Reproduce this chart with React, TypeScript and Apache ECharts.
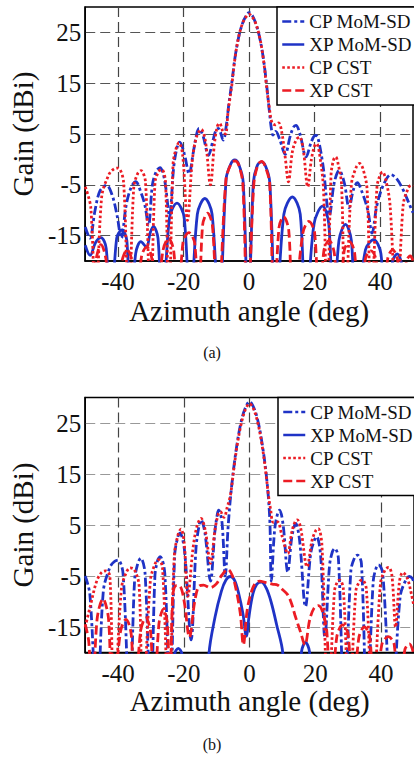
import React, { useEffect, useRef } from 'react';
import * as echarts from 'echarts';

const FONT = "'Liberation Serif', 'Times New Roman', Times, serif";
const xTicks = [-40, -20, 0, 20, 40];
const xGridB = [-40, -20, 0, 40];
const yTicks = [-15, -5, 5, 15, 25];
const seriesNames = ['CP MoM-SD', 'XP MoM-SD', 'CP CST', 'XP CST'];
const xTitle = 'Azimuth angle (deg)';
const yTitle = 'Gain (dBi)';
const panelLabels = ['(a)', '(b)'];

// ---- panel (a) ----
const cpMomA = [
  [-50, -13.3], [-48.6, -15.5], [-47, -10], [-45.5, -6.2], [-43.5, -5.1], [-41.8, -7], [-40.3, -11], [-39, -15.5],
  [-37.5, -9], [-36, -5.5], [-34.6, -4.4], [-33, -6.5], [-31.8, -9], [-30.7, -13], [-29.5, -5], [-28.3, -2.3],
  [-27.2, -1.6], [-25.8, -4], [-24.3, -11], [-23, -1.5], [-22, 2.3], [-21.2, 3.4], [-19.8, 1.2], [-18.3, -2.8],
  [-17, 1.5], [-16, 5], [-15.3, 6.1], [-14, 4.5], [-12.4, 0.8], [-11, 3.8], [-10.2, 5.6], [-9.4, 6.1], [-7.9, 3.8],
  [-7, 6.5], [-6.2, 10.8], [-5.2, 15.5], [-4.2, 20.5], [-3, 24.6], [-2, 26.8], [-1, 28.2], [0, 28.9], [1, 28.3],
  [2, 26.8], [3, 24.6], [4.2, 20.5], [5.2, 15.5], [6.1, 10], [6.8, 6], [7.3, 4.8], [8.1, 5.5], [9.3, 4], [11, 1],
  [12.5, 4.5], [13.5, 6.3], [14.3, 6.7], [15.5, 5], [17.4, 0.5], [19, 3.5], [20.2, 4.7], [20.9, 4.5], [22.5, -1],
  [24.5, -11], [26, -4.5], [27.5, -2.2], [29, -4.5], [30.5, -9.5], [31.8, -6], [33, -4.6], [34.5, -6.5], [36.2, -10],
  [37.5, -14.5], [39, -9], [41, -5], [43.3, -3], [45, -3.8], [47, -6], [49, -9], [50, -10.5],
];
const xpMomA = [
  [-50, -16.9], [-48.5, -18.9], [-46.8, -16.3], [-45.2, -15.4], [-43.6, -17.5], [-42.3, -32], [-40.4, -15.5],
  [-38.8, -13.9], [-37.3, -16], [-36.3, -32], [-34.6, -18.5], [-33, -16.2], [-31.3, -17.3], [-30.2, -14.5],
  [-29.2, -13.2], [-27.8, -15.5], [-26.5, -32], [-24.3, -11.5], [-22, -8.6], [-19.8, -11.5], [-18, -32],
  [-15.8, -10.8], [-13.5, -7.7], [-11.3, -10.8], [-9.2, -32], [-7, -3.8], [-5.6, -0.9], [-4.4, -0.1], [-3.2, -0.9],
  [-1.8, -4.5], [-0.3, -32], [1.3, -4.5], [2.5, -1.2], [3.7, -0.5], [5, -1.3], [6.3, -4.5], [8.2, -32],
  [10.6, -10.8], [13.2, -7.4], [15.6, -10.8], [17.2, -32], [19.8, -12.7], [22.4, -9.2], [24.3, -12.7], [25.7, -32],
  [27.4, -16], [29.4, -12.8], [31.2, -16], [32.5, -32], [35.5, -17.8], [38, -15.8], [40.2, -18.5], [41.5, -32],
  [43.8, -20], [45.2, -18.6], [46.6, -21], [47.5, -32], [50, -32],
];
const cpCstA = [
  [-50, -5.4], [-48.3, -9.5], [-46.8, -32], [-45, -7.5], [-42.8, -3], [-41.3, -1.9], [-40, -1.7], [-38.3, -4.5],
  [-36.8, -32], [-35.2, -5.5], [-34, -2.8], [-33, -2.2], [-31.6, -4.5], [-30.1, -32], [-28.7, -4.5], [-27.5, -2.3],
  [-26.6, -2], [-25.5, -4.5], [-24.5, -32], [-23.2, -1], [-22.2, 2.3], [-21.4, 3.3], [-20.3, 1], [-18.8, -12],
  [-17.3, 0], [-16, 4.5], [-14.6, 5.9], [-13.3, 3.5], [-11.8, -5], [-10.6, 3], [-9.7, 6.5], [-9, 7.1], [-8, 5.5],
  [-7.2, 5], [-6.4, 9.5], [-5.3, 14.5], [-4.3, 20], [-3.1, 24.4], [-2, 26.8], [-1, 28], [0, 28.6], [1, 28],
  [2, 26.8], [3.1, 24.4], [4.3, 20], [5.3, 14.5], [6.2, 10], [7, 7.2], [8, 6.8], [9, 7.2], [10, 5.2], [11, 0.5],
  [12, -4.4], [13.2, 1.5], [14.4, 3.9], [15.4, 4.4], [16.5, 2], [17.9, -5.4], [19, 0], [20, 2.7], [20.6, 3.1],
  [21.5, 1], [22.7, -6], [23.8, -32], [25, -3], [25.8, 0], [26.4, 0.5], [27.2, -1], [28.2, -5], [29.3, -32],
  [31.2, -5], [32.7, -1.5], [33.7, -0.8], [34.8, -2], [36, -6], [37.2, -32], [39, -5.5], [40, -3], [40.7, -2.5],
  [41.7, -4], [43, -9], [45, -32], [47, -9], [48.6, -5.6], [49.5, -5.1], [50, -5.3],
];
const xpCstA = [
  [-50, -32], [-46.8, -20], [-45.2, -16.8], [-43.6, -20], [-42.5, -32], [-38.8, -20], [-37.2, -17.8], [-35.8, -20],
  [-34.8, -32], [-32.8, -19], [-31.2, -17.2], [-29.7, -19.5], [-28.7, -32], [-26.3, -18], [-24.6, -15.6], [-23, -18],
  [-21.7, -32], [-20.2, -16.5], [-18.4, -14.4], [-16.6, -16.5], [-15.4, -32], [-14.2, -13], [-12.7, -10.6],
  [-11.2, -13], [-9.6, -32], [-7.1, -4.2], [-5.6, -1], [-4.3, -0.3], [-3.1, -1.2], [-1.9, -5], [-0.5, -32],
  [1.4, -5.2], [2.6, -1.2], [3.8, -0.4], [5, -1.5], [6.3, -5], [7.6, -32], [9.1, -13.5], [10.5, -11.3], [12.1, -14],
  [13.3, -32], [16.4, -14.5], [18.2, -12.2], [20, -14.5], [21.3, -32], [22.8, -18], [24.4, -16], [26, -18.5],
  [27.3, -32], [29, -18], [30.6, -16.2], [32.2, -18.5], [33.5, -32], [35.5, -19.5], [37.2, -18], [38.8, -20],
  [40, -32], [42.3, -19.5], [43.8, -17.8], [45.3, -19.8], [46.3, -32], [48, -20], [49.2, -19], [50, -20],
];

// ---- panel (b) ----
const cpMomB = [
  [-50, -5], [-48.6, -8.5], [-46.4, -32], [-44.5, -8], [-42.5, -3.3], [-41.2, -2.2], [-40, -1.9], [-38.5, -4.5],
  [-36.5, -32], [-35, -6], [-34, -2.5], [-33.1, -1.5], [-31.8, -4.5], [-30.1, -32], [-28.8, -5], [-28, -2],
  [-27.2, -1.2], [-25.8, -4.5], [-24.2, -32], [-22.8, -1], [-21.9, 2.5], [-21.2, 3.4], [-19.8, 0], [-17.8, -17.5],
  [-16.3, 0.5], [-15.4, 4.8], [-14.8, 6], [-13.6, 3.5], [-11.9, -6], [-10.6, 3.5], [-9.8, 7.2], [-9.4, 7.9],
  [-8.4, 5.5], [-7.4, -5], [-6.6, 4], [-5.9, 9.8], [-4.9, 15.8], [-3.8, 21], [-2.6, 25.2], [-1.4, 27.8], [0, 29.2],
  [1.4, 27.8], [2.6, 25.2], [3.8, 21], [4.9, 15.8], [5.7, 10.5], [6.2, 5], [6.6, -6], [7.6, 4], [8.5, 7.2],
  [9.1, 7.9], [10.2, 5], [11.6, -4.2], [12.8, 2.5], [13.6, 4.8], [14, 5.3], [15.2, 2], [17, -11], [18.6, -0.5],
  [19.8, 2.2], [20.4, 2.7], [21.6, -1], [22.9, -17], [24.3, -3], [25.2, -0.2], [25.9, 0.4], [27, -1.5], [28.8, -32],
  [30.8, -4], [32, -1.3], [32.8, -0.9], [34, -2.5], [35.7, -32], [37.6, -6], [38.6, -3.2], [39.2, -2.8], [40.5, -4.5],
  [43.2, -32], [45.8, -9], [47.5, -5.8], [48.6, -5.1], [49.5, -5.5], [50, -6.5],
];
const xpMomB = [
  [-50, -32], [-24.3, -32], [-22.8, -20.3], [-21.7, -19.2], [-20.6, -20.3], [-19.2, -32], [-12.8, -32],
  [-12.4, -20.5], [-10.5, -13], [-8.6, -8], [-7.2, -5.8], [-5.9, -5.1], [-4.6, -5.8], [-3.3, -8.5], [-2, -12.5],
  [-1, -16.8], [-0.1, -12.5], [1, -8.5], [2.2, -6.6], [3.6, -6.2], [5, -7.3], [6.5, -10], [8.2, -14.5],
  [10.1, -20.2], [10.6, -32], [14.8, -32], [15.8, -19.8], [17, -18], [18.2, -19.8], [19.2, -32], [50, -32],
];
const cpCstB = [
  [-50, -15], [-48.5, -11], [-46.5, -6], [-45, -4.3], [-43.8, -4], [-42.5, -5], [-41.3, -32], [-39, -7.5],
  [-37.5, -4.3], [-36.3, -3.4], [-35, -3.8], [-33.6, -7], [-32.5, -32], [-30.2, -6], [-28.8, -2.7], [-27.7, -1.8],
  [-26.5, -3.3], [-24.6, -32], [-22.9, -1], [-21.8, 3], [-20.9, 4.2], [-19.9, 1.5], [-18.8, -9], [-17.2, 0.5],
  [-16, 4.8], [-14.8, 6.3], [-13.5, 4], [-11.9, -2.5], [-10.5, 4.2], [-9.5, 7.2], [-8.9, 7.6], [-7.8, 6.5],
  [-6.8, 8.5], [-5.8, 11], [-4.8, 16], [-3.7, 21], [-2.5, 25], [-1.3, 27.6], [0, 28.8], [1.3, 27.6], [2.5, 25],
  [3.7, 21], [4.8, 16], [5.7, 11], [6.4, 8], [7.2, 5.5], [8.5, 5.6], [9.8, 3], [11.6, -0.6], [12.8, 3.5],
  [13.8, 5.6], [14.5, 6], [15.5, 4.5], [17.5, -3.2], [19, 2], [20.2, 4], [20.9, 4.3], [22, 1], [23.9, -32],
  [25.8, -8], [26.8, -6], [27.4, -5.8], [28.5, -7.5], [30.3, -32], [32.3, -8], [33.5, -6], [34.3, -5.8],
  [35.5, -7.5], [37.4, -32], [39.8, -6.5], [41.2, -3.8], [42.3, -3.3], [43.3, -5], [44.4, -15], [45.6, -6],
  [46.6, -4.3], [48, -5.5], [49.2, -8.5], [50, -11],
];
const xpCstB = [
  [-50, -14.5], [-48.9, -18], [-47.9, -32], [-46.4, -13.5], [-44.6, -9.5], [-42.9, -13.5], [-41.8, -32],
  [-39.3, -16], [-37.6, -13.5], [-36, -16.5], [-35, -32], [-33.2, -16], [-31.6, -13.2], [-30.1, -16], [-29.1, -32],
  [-27.6, -14.5], [-26.2, -11.5], [-25, -14.5], [-24.3, -32], [-23.4, -9], [-22.3, -6.9], [-21.2, -7], [-19.9, -10],
  [-18.3, -17], [-16.7, -10], [-15.4, -7], [-14, -6.8], [-12, -7.3], [-10.2, -6.6], [-8.4, -4.8], [-6.6, -3.7],
  [-5.2, -5], [-4, -8], [-2.8, -12.5], [-1.9, -18.5], [-0.7, -11.5], [0.7, -7.8], [1.8, -6.4], [3, -6], [5, -6.3],
  [6.9, -6.6], [8.6, -6.8], [9.9, -7.6], [11.6, -8.7], [12.8, -10.5], [13.8, -12.7], [15.5, -16], [16.8, -18.5],
  [18.3, -13.5], [19.6, -11.3], [20.9, -10.8], [22.2, -12], [23.5, -16], [24.7, -32], [26.5, -17], [28.3, -14.6],
  [30, -16.5], [31.2, -32], [33.2, -17.2], [34.9, -15], [36.6, -17.2], [37.8, -32], [40.2, -18.5], [42.2, -16.9],
  [44, -18.5], [45.2, -32], [47.2, -19.5], [48.6, -18.3], [50, -20.5],
];

const BLUE = '#1f33c6';
const RED = '#ec1c24';
const dashDot = [9, 3, 3, 3];
const dotted = [2.6, 2.4];
const dashed = [9, 4];

export default function App() {
  const ref = useRef<HTMLDivElement>(null);
  useEffect(() => {
    document.body.style.margin = '0';
    const chart = echarts.init(ref.current!, null, { renderer: 'svg' });

    const makeX = (gridIndex: number, nameGap: number, gridValues: number[]) => ({
      gridIndex, type: 'value', min: -50, max: 50,
      axisLine: { show: true, onZero: false, lineStyle: { color: '#000', width: 1.5 } },
      axisTick: { show: false, customValues: gridValues },
      axisLabel: { customValues: xTicks, color: '#111', fontFamily: FONT, fontSize: 25, margin: 8 },
      splitLine: { show: true, lineStyle: { color: '#444', type: [10, 5], width: 1.2 } },
      name: xTitle, nameLocation: 'middle', nameGap,
      nameTextStyle: { color: '#111', fontFamily: FONT, fontSize: 29 },
    });
    const makeY = (gridIndex: number, gridColor: string) => ({
      gridIndex, type: 'value', min: -20, max: 30,
      axisLine: { show: true, onZero: false, lineStyle: { color: '#000', width: 1.5 } },
      axisTick: { show: false, customValues: yTicks },
      axisLabel: { customValues: yTicks, color: '#111', fontFamily: FONT, fontSize: 25, margin: 4 },
      splitLine: { show: true, lineStyle: { color: gridColor, type: [10, 5], width: 1.2 } },
      name: yTitle, nameLocation: 'middle', nameGap: 37,
      nameTextStyle: { color: '#111', fontFamily: FONT, fontSize: 29 },
    });
    const mk = (name: string, data: number[][], gi: number, color: string, dash: number[] | string) => ({
      name, type: 'line', xAxisIndex: gi, yAxisIndex: gi, data, symbol: 'none',
      smooth: 0.35,
      clip: true, silent: true,
      lineStyle: { color, width: 2.8, type: dash, cap: 'butt' },
      itemStyle: { color },
      emphasis: { disabled: true },
    });
    const makeLegend = (left: number, top: number) => ({
      orient: 'vertical', left, top, data: seriesNames,
      itemWidth: 22, itemHeight: 14, itemGap: 4, padding: [5, 8, 5, 4],
      backgroundColor: '#fff', borderColor: '#000', borderWidth: 1.5, borderRadius: 0,
      selectedMode: false,
      itemStyle: { opacity: 0 },
      lineStyle: { width: 2.5 },
      textStyle: { fontFamily: FONT, fontSize: 19, color: '#111' },
    });

    const option = {
      animation: false,
      backgroundColor: '#fff',
      textStyle: { fontFamily: FONT },
      grid: [
        { left: 75.5, top: 7, width: 337.5, height: 254, show: true, borderColor: '#000', borderWidth: 1.5 },
        { left: 81.25, top: 397.5, width: 337.5, height: 255, show: true, borderColor: '#000', borderWidth: 1.5 },
      ],
      xAxis: [makeX(0, 35, xTicks), makeX(1, 32, xGridB)],
      yAxis: [makeY(0, '#555'), makeY(1, '#999')],
      legend: [makeLegend(277, 7), makeLegend(278, 397.5)],
      series: [
        mk(seriesNames[0], cpMomA, 0, BLUE, dashDot),
        mk(seriesNames[1], xpMomA, 0, BLUE, 'solid'),
        mk(seriesNames[2], cpCstA, 0, RED, dotted),
        mk(seriesNames[3], xpCstA, 0, RED, dashed),
        mk(seriesNames[0], cpMomB, 1, BLUE, dashDot),
        mk(seriesNames[1], xpMomB, 1, BLUE, 'solid'),
        mk(seriesNames[2], cpCstB, 1, RED, dotted),
        mk(seriesNames[3], xpCstB, 1, RED, dashed),
      ],
      graphic: [
        { type: 'text', x: 212, y: 352, style: { text: panelLabels[0], fontSize: 16, fontFamily: FONT, fill: '#111', textAlign: 'center', textVerticalAlign: 'middle' } },
        { type: 'text', x: 212, y: 744, style: { text: panelLabels[1], fontSize: 16, fontFamily: FONT, fill: '#111', textAlign: 'center', textVerticalAlign: 'middle' } },
      ],
    };
    chart.setOption(option as any);
    return () => chart.dispose();
  }, []);
  return <div ref={ref} style={{ width: 414, height: 757 }} />;
}
